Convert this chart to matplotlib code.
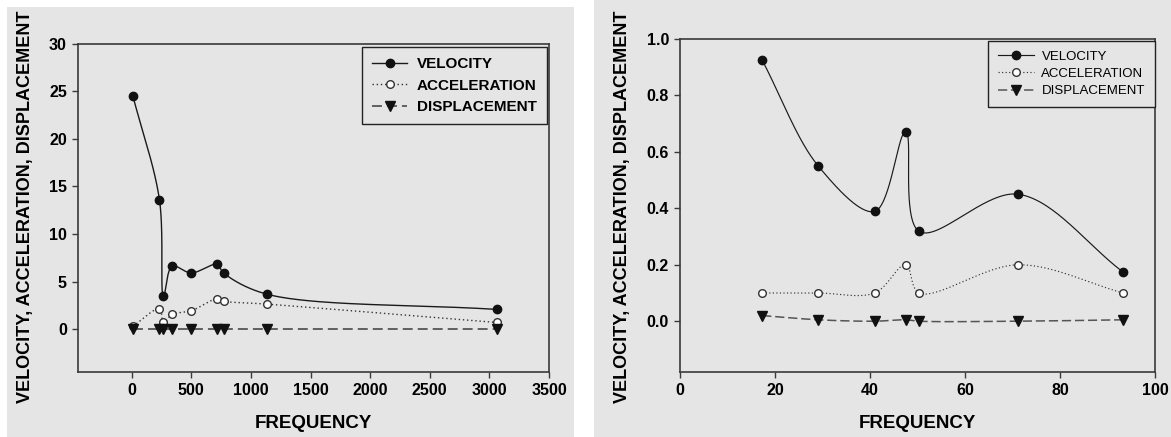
import numpy as np
import matplotlib
matplotlib.use('Agg')
import matplotlib.pyplot as plt
from matplotlib.lines import Line2D
from matplotlib.patches import Rectangle

plt.rcParams['font.family'] = ['Liberation Sans', 'DejaVu Sans']

# left panel: full frequency range
freq_a = [10, 233, 267, 339, 500, 715, 771, 1135, 3062]
vel_a = [24.5, 13.6, 3.43, 6.6, 5.9, 6.8, 5.9, 3.67, 2.07]
acc_a = [0.3, 2.13, 0.7, 1.54, 1.93, 3.19, 2.94, 2.63, 0.7]
disp_a = [0, 0, 0, 0, 0, 0, 0, 0, 0]

# right panel: low frequency range
freq_b = [17.3, 29.15, 41.0, 47.5, 50.35, 71.2, 93.3]
vel_b = [0.925, 0.549, 0.389, 0.672, 0.318, 0.450, 0.174]
acc_b = [0.1, 0.1, 0.1, 0.2, 0.1, 0.2, 0.1]
disp_b = [0.02, 0.005, 0.0, 0.005, 0.0, 0.0, 0.005]

labels = ['VELOCITY', 'ACCELERATION', 'DISPLACEMENT']
ylab = 'VELOCITY, ACCELERATION, DISPLACEMENT'

W, H = 1171, 437
GRAY = '#e5e5e5'


def catmull_rom(ax, x, y, n=60, alpha=0.5):
    # centripetal Catmull-Rom through the points, computed in pixel space
    x0, x1 = ax.get_xlim()
    y0, y1 = ax.get_ylim()
    bb = ax.get_position()
    sx = bb.width * W / (x1 - x0)
    sy = bb.height * H / (y1 - y0)
    P = np.column_stack([(np.asarray(x, float) - x0) * sx,
                         (np.asarray(y, float) - y0) * sy])
    P = np.vstack([2 * P[0] - P[1], P, 2 * P[-1] - P[-2]])
    out = []
    for i in range(1, len(P) - 2):
        p0, p1, p2, p3 = P[i - 1], P[i], P[i + 1], P[i + 2]
        t0 = 0.0
        t1 = t0 + max(np.linalg.norm(p1 - p0), 1e-6) ** alpha
        t2 = t1 + max(np.linalg.norm(p2 - p1), 1e-6) ** alpha
        t3 = t2 + max(np.linalg.norm(p3 - p2), 1e-6) ** alpha
        t = np.linspace(t1, t2, n)[:, None]
        a1 = (t1 - t) / (t1 - t0) * p0 + (t - t0) / (t1 - t0) * p1
        a2 = (t2 - t) / (t2 - t1) * p1 + (t - t1) / (t2 - t1) * p2
        a3 = (t3 - t) / (t3 - t2) * p2 + (t - t2) / (t3 - t2) * p3
        b1 = (t2 - t) / (t2 - t0) * a1 + (t - t0) / (t2 - t0) * a2
        b2 = (t3 - t) / (t3 - t1) * a2 + (t - t1) / (t3 - t1) * a3
        c = (t2 - t) / (t2 - t1) * b1 + (t - t1) / (t2 - t1) * b2
        out.append(c if i == 1 else c[1:])
    c = np.vstack(out)
    return c[:, 0] / sx + x0, c[:, 1] / sy + y0


def draw_panel(ax, freq, vel, acc, disp, dash, lw_scale):
    styles = [
        dict(color='#1a1a1a', ls='-', lw=1.0 * lw_scale, marker='o', mfc='#111111', mec='#111111', ms=6),
        dict(color='#333333', ls=(0, (1, 2)), lw=1.0 * lw_scale, marker='o', mfc='white', mec='#333333', ms=5.5),
        dict(color='#555555', ls=(0, dash), lw=1.3 * lw_scale, marker='v', mfc='#111111', mec='#111111', ms=6.5),
    ]
    handles = []
    for vals, st, lab in zip([vel, acc, disp], styles, labels):
        sxv, syv = catmull_rom(ax, freq, vals)
        ax.plot(sxv, syv, color=st['color'], ls=st['ls'], lw=st['lw'], zorder=2)
        ax.plot(freq, vals, ls='none', marker=st['marker'], mfc=st['mfc'],
                mec=st['mec'], ms=st['ms'], mew=1.0, zorder=3)
        handles.append(Line2D([], [], color=st['color'], ls=st['ls'], lw=st['lw'],
                              marker=st['marker'], mfc=st['mfc'], mec=st['mec'],
                              ms=st['ms'], mew=1.0, label=lab))
    return handles


def style_axes(ax):
    ax.set_facecolor(GRAY)
    for s in ax.spines.values():
        s.set_color('#3a3a3a')
        s.set_linewidth(1.2)
    ax.tick_params(direction='out', length=4, width=1, color='#3a3a3a',
                   labelsize=11.5, pad=4)
    for lab in ax.get_xticklabels() + ax.get_yticklabels():
        lab.set_fontweight('bold')


fig = plt.figure(figsize=(W / 100, H / 100), dpi=100)
fig.patch.set_facecolor('white')
fig.add_artist(Rectangle((7 / W, 0), 567 / W, 430 / H, transform=fig.transFigure,
                         facecolor=GRAY, edgecolor='none', zorder=0))
fig.add_artist(Rectangle((594 / W, 0), 577 / W, 1, transform=fig.transFigure,
                         facecolor=GRAY, edgecolor='none', zorder=0))

# left panel
axL = fig.add_axes([78 / W, 1 - 372 / H, 471 / W, (372 - 43.5) / H])
axL.set_xlim(-450, 3500)
axL.set_ylim(-4.5, 30)
axL.set_xticks(np.arange(0, 3501, 500))
axL.set_yticks(np.arange(0, 31, 5))
hL = draw_panel(axL, freq_a, vel_a, acc_a, disp_a, (5.5, 2.8), 1.0)
style_axes(axL)
legL = axL.legend(handles=hL, loc='upper left',
                  bbox_to_anchor=((362 - 78) / 471, 1 - 3.5 / 328.5),
                  borderaxespad=0, fancybox=False, framealpha=1,
                  facecolor=GRAY, edgecolor='#222222',
                  prop=dict(family='Liberation Sans', weight='bold', size=11),
                  handlelength=2.3, handletextpad=0.65, borderpad=0.65,
                  labelspacing=0.5)
legL.get_frame().set_linewidth(1.0)

# right panel
axR = fig.add_axes([680 / W, 1 - 372 / H, 475 / W, (372 - 39) / H])
axR.set_xlim(0, 100)
axR.set_ylim(-0.18, 1.0)
axR.set_xticks(np.arange(0, 101, 20))
axR.set_yticks(np.arange(0, 1.01, 0.2))
axR.yaxis.set_major_formatter(matplotlib.ticker.FormatStrFormatter('%.1f'))
hR = draw_panel(axR, freq_b, vel_b, acc_b, disp_b, (6, 2.5), 0.85)
style_axes(axR)
legR = axR.legend(handles=hR, loc='upper left',
                  bbox_to_anchor=((988 - 680) / 475, 1 - 1.7 / 333),
                  borderaxespad=0, fancybox=False, framealpha=1,
                  facecolor=GRAY, edgecolor='#222222',
                  prop=dict(family='Liberation Sans', size=9.5),
                  handlelength=2.7, handletextpad=0.6, borderpad=0.75,
                  labelspacing=0.38)
legR.get_frame().set_linewidth(1.0)

# axis titles
for cx in (26, 622):
    fig.text(cx / W, 1 - 207 / H, ylab, rotation=90, ha='center', va='center',
             fontsize=13, fontweight='bold')
for cx in (313.5, 917.5):
    fig.text(cx / W, 1 - 424 / H, 'FREQUENCY', ha='center', va='center',
             fontsize=13.5, fontweight='bold')

fig.savefig('out.png', dpi=100)
